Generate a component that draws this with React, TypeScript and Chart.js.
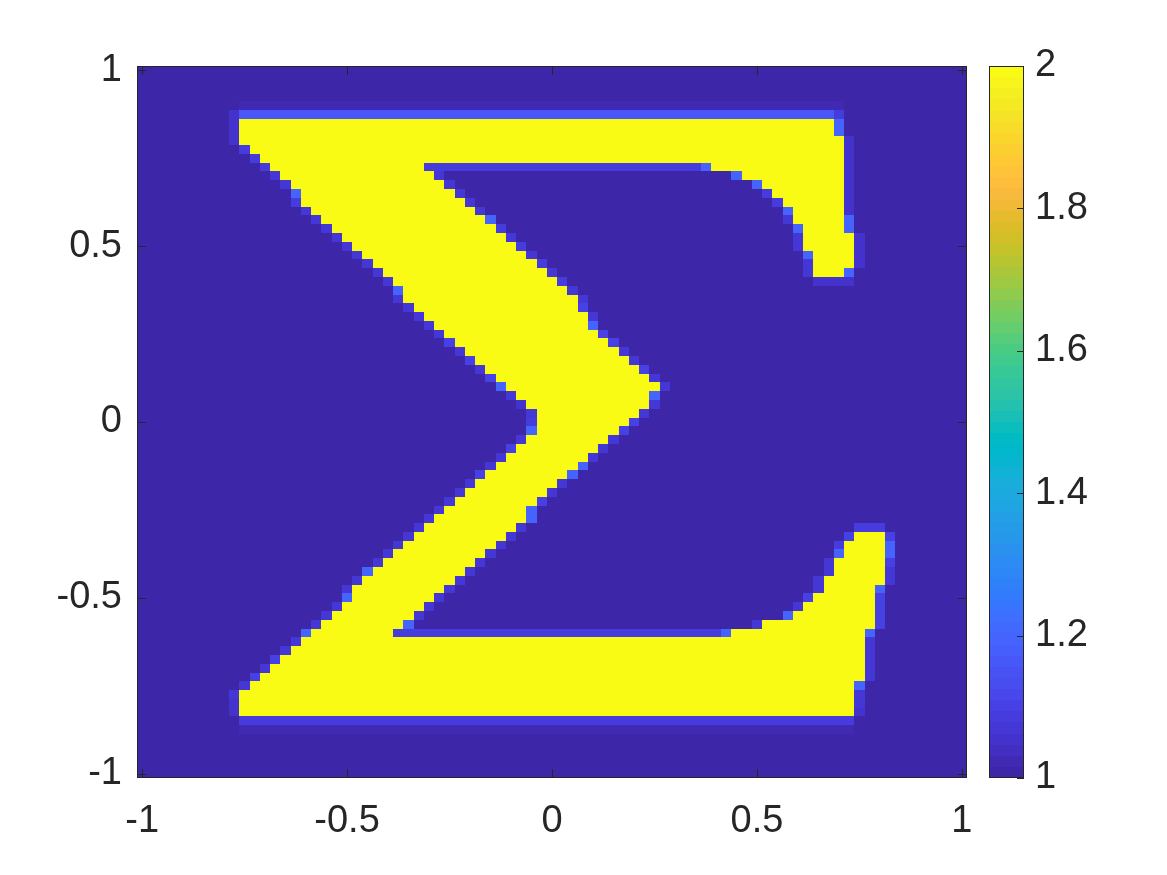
import React, { useEffect, useRef } from 'react';
import { Chart, registerables } from 'chart.js';

Chart.register(...registerables);

// ---------- grid (cell centres, step 0.025 from -1 to 1) ----------
const CELL = 0.025;
const GRID_COLS = 81;
const GRID_ROWS = 81;
const X_COORDS = Array.from({ length: GRID_COLS }, (_, j) => -1 + j * CELL);
const Y_COORDS = Array.from({ length: GRID_ROWS }, (_, i) => 1 - i * CELL);

const BACKGROUND_VALUE = 1;
const YELLOW_VALUE = 2;
const VALUE_MIN = 1;
const VALUE_MAX = 2;

const X_TICKS = [-1, -0.5, 0, 0.5, 1];
const X_TICK_LABELS = ['-1', '-0.5', '0', '0.5', '1'];
const Y_TICKS = [-1, -0.5, 0, 0.5, 1];
const Y_TICK_LABELS = ['-1', '-0.5', '0', '0.5', '1'];
const CB_TICKS = [1, 1.2, 1.4, 1.6, 1.8, 2];
const CB_TICK_LABELS = ['1', '1.2', '1.4', '1.6', '1.8', '2'];

// value-2 runs: [row, firstCol, lastCol, value of cell left of run, value of cell right of run]
const YELLOW_RUNS: number[][] = [
  [6, 10, 67, 1.06, 1.2],
  [7, 10, 67, 1.06, 1.2],
  [8, 10, 68, 1.06, 1.06],
  [9, 11, 68, 1.08, 1.05],
  [10, 12, 68, 1.08, 1.05],
  [11, 13, 27, 1.08, 1.07], [11, 56, 68, 1.2, 1.05],
  [12, 14, 28, 1.07, 1.07], [12, 59, 68, 1.2, 1.05],
  [13, 15, 29, 1.07, 1.07], [13, 61, 68, 1.2, 1.05],
  [14, 16, 30, 1.2, 1.07], [14, 62, 68, 1.08, 1.05],
  [15, 16, 31, 1.08, 1.07], [15, 63, 68, 1.08, 1.05],
  [16, 17, 32, 1.07, 1.07], [16, 64, 68, 1.2, 1.05],
  [17, 18, 33, 1.07, 1.2], [17, 64, 68, 1.07, 1.2],
  [18, 19, 34, 1.07, 1.08], [18, 65, 68, 1.2, 1.2],
  [19, 20, 35, 1.07, 1.07], [19, 65, 69, 1.07, 1.05],
  [20, 21, 36, 1.07, 1.08], [20, 65, 69, 1.07, 1.05],
  [21, 22, 37, 1.07, 1.07], [21, 66, 69, 1.2, 1.05],
  [22, 23, 38, 1.07, 1.08], [22, 66, 69, 1.07, 1.05],
  [23, 24, 39, 1.07, 1.07], [23, 66, 68, 1.07, 1.2],
  [24, 25, 40, 1.07, 1.08],
  [25, 26, 41, 1.2, 1.07],
  [26, 26, 42, 1.07, 1.07],
  [27, 27, 42, 1.07, 1.1],
  [28, 28, 43, 1.07, 1.07],
  [29, 29, 43, 1.07, 1.2],
  [30, 30, 44, 1.07, 1.1],
  [31, 31, 45, 1.1, 1.1],
  [32, 32, 46, 1.07, 1.07],
  [33, 33, 47, 1.1, 1.07],
  [34, 34, 48, 1.07, 1.1],
  [35, 35, 49, 1.1, 1.07],
  [36, 36, 50, 1.2, 1.07],
  [37, 37, 49, 1.07, 1.2],
  [38, 38, 49, 1.05, 1.07],
  [39, 39, 48, 1.07, 1.07],
  [40, 39, 47, 1.08, 1.1],
  [41, 39, 46, 1.2, 1.1],
  [42, 38, 45, 1.07, 1.07],
  [43, 37, 44, 1.1, 1.07],
  [44, 36, 43, 1.07, 1.07],
  [45, 35, 42, 1.07, 1.2],
  [46, 34, 41, 1.1, 1.2],
  [47, 33, 40, 1.07, 1.07],
  [48, 32, 39, 1.07, 1.07],
  [49, 31, 38, 1.07, 1.1],
  [50, 30, 37, 1.07, 1.2],
  [51, 29, 37, 1.07, 1.2],
  [52, 28, 36, 1.07, 1.07],
  [53, 27, 35, 1.07, 1.07], [53, 70, 72, 1.1, 1.1],
  [54, 26, 34, 1.07, 1.07], [54, 69, 72, 1.08, 1.2],
  [55, 25, 33, 1.07, 1.07], [55, 69, 72, 1.2, 1.2],
  [56, 24, 32, 1.07, 1.07], [56, 68, 72, 1.07, 1.1],
  [57, 23, 31, 1.2, 1.07], [57, 68, 72, 1.07, 1.07],
  [58, 22, 30, 1.07, 1.07], [58, 67, 72, 1.07, 1.07],
  [59, 21, 29, 1.07, 1.07], [59, 67, 71, 1.07, 1.2],
  [60, 21, 28, 1.2, 1.07], [60, 66, 71, 1.1, 1.1],
  [61, 20, 27, 1.07, 1.07], [61, 65, 71, 1.07, 1.1],
  [62, 19, 26, 1.07, 1.07], [62, 64, 71, 1.2, 1.1],
  [63, 18, 25, 1.07, 1.2], [63, 61, 71, 1.07, 1.1],
  [64, 17, 24, 1.2, 1.07], [64, 58, 70, 1.2, 1.2],
  [65, 16, 70, 1.07, 1.07],
  [66, 15, 70, 1.07, 1.07],
  [67, 14, 70, 1.1, 1.07],
  [68, 13, 70, 1.07, 1.07],
  [69, 12, 70, 1.1, 1.07],
  [70, 11, 69, 1.07, 1.2],
  [71, 10, 69, 1.07, 1.07],
  [72, 10, 69, 1.05, 1.07],
  [73, 10, 69, 1.05, 1.05],
];

// soft horizontal bands next to the bars: [row, firstCol, lastCol, value]
const SOFT_BANDS: number[][] = [
  [4, 10, 68, 1.03],
  [5, 10, 67, 1.17],
  [5, 9, 9, 1.06],
  [5, 68, 68, 1.08],
  [11, 28, 54, 1.08],
  [11, 55, 55, 1.2],
  [24, 66, 69, 1.05],
  [52, 70, 72, 1.08],
  [64, 25, 56, 1.08],
  [64, 57, 57, 1.2],
  [74, 10, 69, 1.08],
  [75, 10, 69, 1.03],
];

// parula colormap (64 entries)
const PARULA: number[][] = [
  [0.2422, 0.1504, 0.6603], [0.2504, 0.165, 0.7076], [0.2578, 0.1818, 0.7511], [0.2647, 0.1978, 0.7952],
  [0.2706, 0.2147, 0.8364], [0.2751, 0.2342, 0.871], [0.2783, 0.2559, 0.8991], [0.2803, 0.2782, 0.9221],
  [0.2813, 0.3006, 0.9414], [0.281, 0.3228, 0.9579], [0.2795, 0.3447, 0.9717], [0.276, 0.3667, 0.9829],
  [0.2699, 0.3892, 0.9906], [0.2602, 0.4123, 0.9952], [0.244, 0.4358, 0.9988], [0.2206, 0.4603, 0.9973],
  [0.1963, 0.4847, 0.9892], [0.1834, 0.5074, 0.9798], [0.1786, 0.5289, 0.9682], [0.1764, 0.5499, 0.952],
  [0.1687, 0.5703, 0.9359], [0.154, 0.5902, 0.9218], [0.146, 0.6091, 0.9079], [0.138, 0.6276, 0.8973],
  [0.1248, 0.6459, 0.8883], [0.1113, 0.6635, 0.8763], [0.0952, 0.6798, 0.8598], [0.0689, 0.6948, 0.8394],
  [0.0297, 0.7082, 0.8163], [0.0036, 0.7203, 0.7917], [0.0067, 0.7312, 0.766], [0.0433, 0.7411, 0.7394],
  [0.0964, 0.75, 0.712], [0.1408, 0.7584, 0.6842], [0.1717, 0.767, 0.6554], [0.1938, 0.7758, 0.6251],
  [0.2161, 0.7843, 0.5923], [0.247, 0.7918, 0.5567], [0.2906, 0.7973, 0.5188], [0.3406, 0.8008, 0.4789],
  [0.3909, 0.8029, 0.4354], [0.4456, 0.8024, 0.3909], [0.5044, 0.7993, 0.348], [0.5616, 0.7942, 0.3045],
  [0.6174, 0.7876, 0.2612], [0.672, 0.7793, 0.2227], [0.7242, 0.7698, 0.191], [0.7738, 0.7598, 0.1646],
  [0.8203, 0.7498, 0.1535], [0.8634, 0.7406, 0.1596], [0.9035, 0.733, 0.1774], [0.9393, 0.7288, 0.21],
  [0.9728, 0.7298, 0.2394], [0.9956, 0.7434, 0.2371], [0.997, 0.7659, 0.2199], [0.9952, 0.7893, 0.2028],
  [0.9892, 0.8136, 0.1885], [0.9786, 0.8386, 0.1766], [0.9676, 0.8639, 0.1643], [0.961, 0.889, 0.1537],
  [0.9597, 0.9135, 0.1423], [0.9628, 0.9373, 0.1265], [0.9691, 0.9606, 0.1064], [0.9769, 0.9839, 0.0805],
];

const AXIS_COLOR = '#262626';
const FONT = { family: "'Liberation Sans', Arial, Helvetica, sans-serif", size: 38 };

function colorFor(v: number): string {
  const t = (v - VALUE_MIN) / (VALUE_MAX - VALUE_MIN);
  const idx = Math.max(0, Math.min(PARULA.length - 1, Math.floor(t * PARULA.length)));
  const [r, g, b] = PARULA[idx];
  return `rgb(${Math.round(r * 255)},${Math.round(g * 255)},${Math.round(b * 255)})`;
}

function buildCells(): Map<number, number> {
  const cells = new Map<number, number>();
  const put = (row: number, col: number, v: number) => {
    if (row < 0 || row >= GRID_ROWS || col < 0 || col >= GRID_COLS) return;
    const k = row * GRID_COLS + col;
    const old = cells.get(k) ?? BACKGROUND_VALUE;
    cells.set(k, Math.max(old, v));
  };
  for (const [row, a, b, v] of SOFT_BANDS) for (let c = a; c <= b; c++) put(row, c, v);
  for (const [row, a, b, lv, rv] of YELLOW_RUNS) {
    put(row, a - 1, lv);
    put(row, b + 1, rv);
    for (let c = a; c <= b; c++) put(row, c, YELLOW_VALUE);
  }
  return cells;
}

const heatmapPlugin = {
  id: 'heatmapPlugin',
  afterDraw(chart: any) {
    const { ctx, chartArea: a, scales } = chart;
    const xs = scales.x;
    const ys = scales.y;
    const cb = scales.cb;
    const cells = buildCells();
    ctx.save();
    ctx.fillStyle = colorFor(BACKGROUND_VALUE);
    ctx.fillRect(a.left, a.top, a.right - a.left, a.bottom - a.top);
    cells.forEach((v, k) => {
      const row = Math.floor(k / GRID_COLS);
      const col = k % GRID_COLS;
      const xc = X_COORDS[col];
      const yc = Y_COORDS[row];
      const x0 = Math.round(xs.getPixelForValue(xc - CELL / 2));
      const x1 = Math.round(xs.getPixelForValue(xc + CELL / 2));
      const y0 = Math.round(ys.getPixelForValue(yc + CELL / 2));
      const y1 = Math.round(ys.getPixelForValue(yc - CELL / 2));
      ctx.fillStyle = colorFor(v);
      ctx.fillRect(x0, y0, x1 - x0, y1 - y0);
    });

    // axes box and inward ticks
    ctx.strokeStyle = AXIS_COLOR;
    ctx.lineWidth = 1;
    ctx.strokeRect(a.left + 0.5, a.top + 0.5, a.right - a.left - 1, a.bottom - a.top - 1);
    const TL = 9;
    ctx.beginPath();
    for (const v of X_TICKS) {
      const px = Math.round(xs.getPixelForValue(v)) + 0.5;
      ctx.moveTo(px, a.bottom);
      ctx.lineTo(px, a.bottom - TL);
      ctx.moveTo(px, a.top);
      ctx.lineTo(px, a.top + TL);
    }
    for (const v of Y_TICKS) {
      const py = Math.round(ys.getPixelForValue(v)) + 0.5;
      ctx.moveTo(a.left, py);
      ctx.lineTo(a.left + TL, py);
      ctx.moveTo(a.right, py);
      ctx.lineTo(a.right - TL, py);
    }
    ctx.stroke();

    // colorbar
    const cbLeft = 989;
    const cbRight = 1024;
    const n = PARULA.length;
    for (let i = 0; i < n; i++) {
      const v0 = VALUE_MIN + (i / n) * (VALUE_MAX - VALUE_MIN);
      const v1 = VALUE_MIN + ((i + 1) / n) * (VALUE_MAX - VALUE_MIN);
      const yTop = Math.round(cb.getPixelForValue(v1));
      const yBot = Math.round(cb.getPixelForValue(v0));
      const [r, g, b] = PARULA[i];
      ctx.fillStyle = `rgb(${Math.round(r * 255)},${Math.round(g * 255)},${Math.round(b * 255)})`;
      ctx.fillRect(cbLeft, yTop, cbRight - cbLeft, yBot - yTop);
    }
    const cbTop = Math.round(cb.getPixelForValue(VALUE_MAX));
    const cbBot = Math.round(cb.getPixelForValue(VALUE_MIN));
    ctx.strokeRect(cbLeft + 0.5, cbTop + 0.5, cbRight - cbLeft - 1, cbBot - cbTop - 1);
    ctx.beginPath();
    for (const v of CB_TICKS) {
      const py = Math.round(cb.getPixelForValue(v)) + 0.5;
      ctx.moveTo(cbRight, py);
      ctx.lineTo(cbRight - 7, py);
    }
    ctx.stroke();
    ctx.restore();
  },
};

const zeroVerticalPadding = (s: any) => {
  s.paddingTop = 0;
  s.paddingBottom = 0;
};

export default function App() {
  const canvasRef = useRef<HTMLCanvasElement>(null);

  useEffect(() => {
    const canvas = canvasRef.current;
    if (!canvas) return;
    const chart = new Chart(canvas, {
      type: 'scatter',
      data: { datasets: [] },
      options: {
        responsive: false,
        animation: false,
        devicePixelRatio: 1,
        layout: { padding: { top: 66, left: 0, right: 0, bottom: 0 } },
        plugins: { legend: { display: false }, tooltip: { enabled: false } },
        scales: {
          x: {
            type: 'linear',
            position: 'bottom',
            min: -1 - CELL / 2,
            max: 1 + CELL / 2,
            afterBuildTicks: (s: any) => {
              s.ticks = X_TICKS.map((value) => ({ value }));
            },
            afterFit: (s: any) => {
              s.height = 97;
              s.paddingLeft = 0;
              s.paddingRight = 0;
            },
            grid: { display: false, drawTicks: false },
            border: { display: false },
            ticks: {
              font: FONT,
              color: AXIS_COLOR,
              padding: 21,
              maxRotation: 0,
              autoSkip: false,
              callback: (_v: any, i: number) => X_TICK_LABELS[i],
            },
          },
          y: {
            type: 'linear',
            position: 'left',
            min: -1 - CELL / 2,
            max: 1 + CELL / 2,
            afterBuildTicks: (s: any) => {
              s.ticks = Y_TICKS.map((value) => ({ value }));
            },
            afterFit: (s: any) => {
              s.width = 137;
              zeroVerticalPadding(s);
            },
            grid: { display: false, drawTicks: false },
            border: { display: false },
            ticks: {
              font: FONT,
              color: AXIS_COLOR,
              padding: 15,
              autoSkip: false,
              callback: (_v: any, i: number) => Y_TICK_LABELS[i],
            },
          },
          cb: {
            type: 'linear',
            axis: 'y',
            position: 'right',
            min: VALUE_MIN,
            max: VALUE_MAX,
            afterBuildTicks: (s: any) => {
              s.ticks = CB_TICKS.map((value) => ({ value }));
            },
            afterFit: (s: any) => {
              s.width = 200;
              zeroVerticalPadding(s);
            },
            grid: { display: false, drawTicks: false },
            border: { display: false },
            ticks: {
              font: FONT,
              color: AXIS_COLOR,
              padding: 68,
              autoSkip: false,
              callback: (_v: any, i: number) => CB_TICK_LABELS[i],
            },
          },
        },
      } as any,
      plugins: [heatmapPlugin],
    });
    return () => chart.destroy();
  }, []);

  return (
    <div style={{ position: 'fixed', left: 0, top: 0, width: 1167, height: 875, background: '#ffffff' }}>
      <canvas ref={canvasRef} width={1167} height={875} style={{ display: 'block', width: 1167, height: 875 }} />
    </div>
  );
}
